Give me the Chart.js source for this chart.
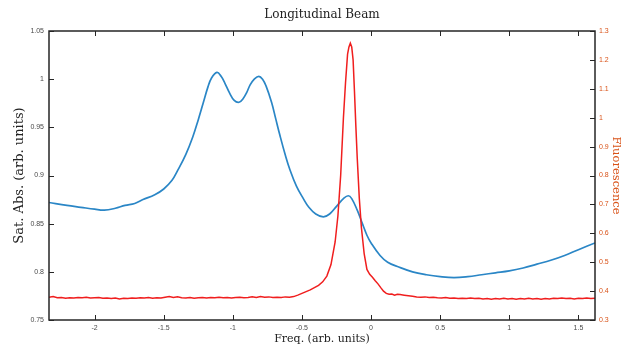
<!DOCTYPE html>
<html>
<head>
<meta charset="utf-8">
<script src="https://cdn.jsdelivr.net/npm/chart.js@4/dist/chart.umd.min.js"></script>
<style>
  html, body { margin: 0; padding: 0; background: #fff; }
  #wrap { width: 625px; height: 347px; }
</style>
</head>
<body>
<div id="wrap"><canvas id="beamChart" width="625" height="347"></canvas></div>
<script>
// Saturated absorption (left axis)
const absFreq = [-2.33, -2.20, -2.10, -2.00, -1.93, -1.85, -1.78, -1.71, -1.65, -1.565,
    -1.50, -1.44, -1.40, -1.34, -1.29, -1.25, -1.215, -1.18, -1.155, -1.115,
    -1.085, -1.058, -1.025, -0.99, -0.955, -0.925, -0.90, -0.875, -0.845, -0.812,
    -0.785, -0.76, -0.72, -0.69, -0.66, -0.62, -0.587, -0.54, -0.49, -0.45,
    -0.40, -0.345, -0.30, -0.25, -0.20, -0.165, -0.14, -0.10, -0.06, -0.03,
    0.00, 0.065, 0.12, 0.20, 0.30, 0.40, 0.50, 0.60, 0.70, 0.80,
    0.90, 1.00, 1.10, 1.20, 1.30, 1.40, 1.50, 1.62];
const absVal = [0.872, 0.869, 0.867, 0.865, 0.864, 0.866, 0.869, 0.871, 0.875, 0.880,
    0.886, 0.895, 0.905, 0.922, 0.940, 0.958, 0.975, 0.992, 1.001, 1.007,
    1.003, 0.996, 0.986, 0.978, 0.976, 0.980, 0.986, 0.994, 1.000, 1.003,
    1.000, 0.993, 0.976, 0.959, 0.942, 0.921, 0.906, 0.889, 0.876, 0.867,
    0.860, 0.857, 0.860, 0.868, 0.876, 0.879, 0.876, 0.864, 0.849, 0.838,
    0.830, 0.817, 0.810, 0.805, 0.800, 0.797, 0.795, 0.794, 0.795, 0.797,
    0.799, 0.801, 0.804, 0.808, 0.812, 0.817, 0.823, 0.830];

// Fluorescence (right axis)
const fluoFreq = [-2.33, -2.30, -2.27, -2.24, -2.21, -2.18, -2.15, -2.12, -2.09, -2.06,
    -2.03, -2.00, -1.97, -1.94, -1.91, -1.88, -1.85, -1.82, -1.79, -1.76,
    -1.73, -1.70, -1.67, -1.64, -1.61, -1.58, -1.55, -1.52, -1.49, -1.46,
    -1.43, -1.40, -1.37, -1.34, -1.31, -1.28, -1.25, -1.22, -1.19, -1.16,
    -1.13, -1.10, -1.07, -1.04, -1.01, -0.98, -0.95, -0.92, -0.89, -0.86,
    -0.83, -0.80, -0.77, -0.74, -0.71, -0.68, -0.65, -0.62, -0.59, -0.56,
    -0.53, -0.50, -0.47, -0.44, -0.41, -0.38, -0.35, -0.32, -0.29, -0.26,
    -0.24, -0.22, -0.20, -0.185, -0.17, -0.16, -0.15, -0.14, -0.13, -0.12,
    -0.11, -0.10, -0.085, -0.07, -0.05, -0.03, -0.01, 0.01, 0.03, 0.05,
    0.07, 0.09, 0.11, 0.13, 0.15, 0.17, 0.19, 0.21, 0.24, 0.27,
    0.30, 0.33, 0.36, 0.39, 0.42, 0.45, 0.48, 0.51, 0.54, 0.57,
    0.60, 0.63, 0.66, 0.69, 0.72, 0.75, 0.78, 0.81, 0.84, 0.87,
    0.90, 0.93, 0.96, 0.99, 1.02, 1.05, 1.08, 1.11, 1.14, 1.17,
    1.20, 1.23, 1.26, 1.29, 1.32, 1.35, 1.38, 1.41, 1.44, 1.47,
    1.50, 1.53, 1.56, 1.59, 1.62];
const fluoVal = [0.379, 0.381, 0.377, 0.378, 0.375, 0.377, 0.376, 0.378, 0.377, 0.379,
    0.376, 0.377, 0.378, 0.375, 0.376, 0.374, 0.376, 0.373, 0.375, 0.374,
    0.376, 0.375, 0.377, 0.376, 0.378, 0.375, 0.377, 0.376, 0.379, 0.381,
    0.378, 0.380, 0.377, 0.376, 0.378, 0.375, 0.377, 0.378, 0.376, 0.378,
    0.377, 0.379, 0.377, 0.378, 0.376, 0.378, 0.379, 0.377, 0.378, 0.380,
    0.378, 0.381, 0.379, 0.380, 0.378, 0.379, 0.378, 0.380, 0.379, 0.381,
    0.386, 0.392, 0.398, 0.404, 0.412, 0.420, 0.432, 0.452, 0.492, 0.570,
    0.660, 0.800, 1.000, 1.120, 1.220, 1.245, 1.258, 1.245, 1.200, 1.090,
    0.970, 0.860, 0.720, 0.620, 0.530, 0.475, 0.458, 0.448, 0.436, 0.425,
    0.412, 0.400, 0.392, 0.389, 0.390, 0.386, 0.389, 0.388, 0.386, 0.384,
    0.382, 0.380, 0.379, 0.380, 0.378, 0.379, 0.377, 0.376, 0.378, 0.375,
    0.376, 0.374, 0.375, 0.374, 0.376, 0.374, 0.375, 0.373, 0.374, 0.372,
    0.374, 0.373, 0.375, 0.373, 0.374, 0.372, 0.374, 0.373, 0.375, 0.373,
    0.374, 0.372, 0.374, 0.373, 0.375, 0.374, 0.376, 0.374, 0.375, 0.373,
    0.375, 0.374, 0.376, 0.374, 0.375];

const xTickVals = [-2, -1.5, -1, -0.5, 0, 0.5, 1, 1.5];

const BLUE = '#2a86c6';
const RED = '#f01e1e';
const ORANGE = '#d95319';
const TICK_GREY = '#4a4a4a';
const SERIF = 'DejaVu Serif';

// MATLAB style box with inward ticks
const boxTicks = {
    id: 'boxTicks',
    afterDraw(chart) {
        const { ctx, chartArea: a, scales } = chart;
        const len = 5;
        ctx.save();
        ctx.strokeStyle = '#262626';
        ctx.lineWidth = 1;
        ctx.beginPath();
        scales.x.ticks.forEach(t => {
            const px = Math.round(scales.x.getPixelForValue(t.value)) + 0.5;
            ctx.moveTo(px, a.bottom); ctx.lineTo(px, a.bottom - len);
            ctx.moveTo(px, a.top); ctx.lineTo(px, a.top + len);
        });
        scales.y.ticks.forEach(t => {
            const py = Math.round(scales.y.getPixelForValue(t.value)) + 0.5;
            ctx.moveTo(a.left, py); ctx.lineTo(a.left + len, py);
        });
        scales.y1.ticks.forEach(t => {
            const py = Math.round(scales.y1.getPixelForValue(t.value)) + 0.5;
            ctx.moveTo(a.right, py); ctx.lineTo(a.right - len, py);
        });
        ctx.stroke();
        ctx.lineWidth = 1.5;
        ctx.strokeRect(a.left, a.top, a.right - a.left, a.bottom - a.top);
        ctx.restore();
    }
};

const fmt = v => String(Number(v.toFixed(2)));

new Chart(document.getElementById('beamChart'), {
    type: 'line',
    data: {
        datasets: [
            {
                label: 'Fluorescence',
                data: fluoFreq.map((f, i) => ({ x: f, y: fluoVal[i] })),
                yAxisID: 'y1',
                borderColor: RED,
                borderWidth: 1.5,
                pointRadius: 0,
                tension: 0,
                order: 0
            },
            {
                label: 'Sat. Abs.',
                data: absFreq.map((f, i) => ({ x: f, y: absVal[i] })),
                yAxisID: 'y',
                borderColor: BLUE,
                borderWidth: 1.7,
                pointRadius: 0,
                tension: 0.4,
                order: 1
            }
        ]
    },
    options: {
        responsive: false,
        animation: false,
        layout: { padding: 0 },
        plugins: {
            legend: { display: false },
            tooltip: { enabled: false },
            title: {
                display: true,
                fullSize: false,
                text: 'Longitudinal Beam',
                color: '#222',
                font: { family: SERIF, size: 12, weight: 'normal' },
                padding: { top: 8, bottom: 8.6 }
            }
        },
        scales: {
            x: {
                type: 'linear',
                min: -2.33,
                max: 1.62,
                afterFit: s => { s.height = 27; },
                afterBuildTicks: s => { s.ticks = xTickVals.map(v => ({ value: v })); },
                grid: { display: false, drawTicks: false },
                border: { display: false },
                ticks: {
                    padding: 4,
                    color: TICK_GREY,
                    font: { family: 'Liberation Sans', size: 7 },
                    callback: v => fmt(v)
                },
                title: {
                    display: true,
                    text: 'Freq. (arb. units)',
                    color: '#222',
                    font: { family: SERIF, size: 11 },
                    padding: { top: 0, bottom: 1.5 }
                }
            },
            y: {
                position: 'left',
                min: 0.75,
                max: 1.05,
                afterFit: s => { s.width = 49; },
                grid: { display: false, drawTicks: false },
                border: { display: false },
                ticks: {
                    stepSize: 0.05,
                    padding: 5,
                    color: TICK_GREY,
                    font: { family: 'Liberation Sans', size: 7 },
                    callback: v => fmt(v)
                },
                title: {
                    display: true,
                    text: 'Sat. Abs. (arb. units)',
                    color: '#222',
                    font: { family: SERIF, size: 13 },
                    padding: { top: 12, bottom: 0 }
                }
            },
            y1: {
                position: 'right',
                min: 0.3,
                max: 1.3,
                afterFit: s => { s.width = 30; },
                grid: { display: false, drawTicks: false },
                border: { display: false },
                ticks: {
                    stepSize: 0.1,
                    padding: 4,
                    color: ORANGE,
                    font: { family: 'Liberation Sans', size: 7 },
                    callback: v => fmt(v)
                },
                title: {
                    display: true,
                    text: 'Fluorescence',
                    color: ORANGE,
                    font: { family: SERIF, size: 11.5 },
                    padding: { top: 2, bottom: 0 }
                }
            }
        }
    },
    plugins: [boxTicks]
});
</script>
</body>
</html>
